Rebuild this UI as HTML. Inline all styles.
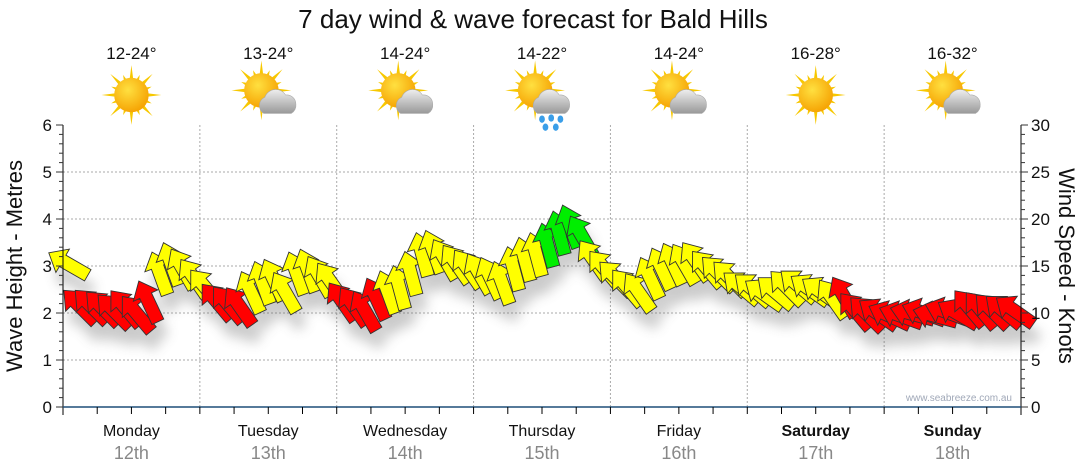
<!DOCTYPE html>
<html><head><meta charset="utf-8"><style>
body{margin:0;background:#fff;}
svg{display:block;font-family:"Liberation Sans",sans-serif;}
</style></head><body>
<svg id="c" width="1080" height="475" viewBox="0 0 1080 475">
<defs>
<radialGradient id="sunG" cx="0.4" cy="0.35" r="0.7"><stop offset="0" stop-color="#ffe040"/><stop offset="1" stop-color="#f5a000"/></radialGradient>
<linearGradient id="cloudG" x1="0" y1="0" x2="0" y2="1"><stop offset="0" stop-color="#eee"/><stop offset="1" stop-color="#999"/></linearGradient>
<filter id="sh" x="-50%" y="-50%" width="200%" height="200%"><feGaussianBlur stdDeviation="6"/></filter>
</defs>
<text x="533" y="28" text-anchor="middle" font-size="26" fill="#111">7 day wind &amp; wave forecast for Bald Hills</text>
<g id="grid"></g>
<g id="icons"></g>
<g id="shadows" filter="url(#sh)" opacity="0.3"></g>
<g id="arrows"></g>
<g id="axes"></g>
<text x="1012" y="401" text-anchor="end" font-size="10" fill="#a0a8b8">www.seabreeze.com.au</text>
<text transform="translate(22,266) rotate(-90)" text-anchor="middle" font-size="22" fill="#111">Wave Height - Metres</text>
<text transform="translate(1059,266) rotate(90)" text-anchor="middle" font-size="22" fill="#111">Wind Speed - Knots</text>
</svg>
<script>
const days=["Monday","Tuesday","Wednesday","Thursday","Friday","Saturday","Sunday"];
const dates=["12th","13th","14th","15th","16th","17th","18th"];
const temps=["12-24°","13-24°","14-24°","14-22°","14-24°","16-28°","16-32°"];
const weather=["sun","cloud","cloud","rain","cloud","sun","cloud"];
const waveTicks=[0,1,2,3,4,5,6];
const windTicks=[0,5,10,15,20,25,30];
// wind speed (knots) every 2 hours, 12 per day
const windSpeed=[
15.5,11,11,10.8,10.5,10.8,10.2,11.5,14.5,15.5,15,14,
13,11.5,11.2,11,12.5,13.5,13.8,12.5,14.5,14.8,14.2,13.6,
11.5,11,10.5,11.8,12.5,13,14.5,16.5,16.8,16,15.5,15,
14.5,14,13.5,15,16,16.5,17.5,18.8,19.5,18.5,16,15,
14,13,12.5,14,15,15.5,15.5,15.8,15,14.5,14,13,
12.8,12.3,12.5,13,13.2,12.8,12.5,11.8,12,10.5,10.2,10.2,
10,10,10.2,10.3,10,10.4,10.2,10.8,10.6,10.5,10.5,10.5];
// direction arrow points to (degrees clockwise from north)
const windDir=[
-60,-45,-45,-45,-45,-40,-40,-25,-20,-20,-30,-35,
-40,-40,-40,-35,-25,-20,-25,-30,-20,-20,-30,-35,
-35,-35,-30,-25,-20,-15,-15,-15,-20,-30,-35,-35,
-30,-25,-20,-15,-15,-15,-15,-15,-20,-30,-35,-40,
-45,-40,-35,-25,-25,-25,-30,-35,-40,-45,-45,-50,
-50,-55,-50,-45,-50,-55,-55,-35,-30,-40,-45,-55,
-65,-70,-75,-70,-75,-70,-60,-40,-40,-45,-50,-55];
// colour class: Y yellow, R red, G green
const windCol=
"YRRRRRRRYYYY"+"YRRRYYYYYYYY"+"RRRRYYYYYYYY"+"YYYYYYGGGGYY"+"YYYYYYYYYYYY"+"YYYYYYYYRRRR"+"RRRRRRRRRRRR";

const NS="http://www.w3.org/2000/svg";
const X0=63,X1=1021,Y0=407,Y1=125;
const dayW=(X1-X0)/7;
function xHour(h){return X0+h/(24*7)*(X1-X0);}
function yWave(m){return Y0-m/6*(Y0-Y1);}
function yWind(k){return Y0-k/30*(Y0-Y1);}
function mk(tag,attrs,parent){const e=document.createElementNS(NS,tag);for(const k in attrs)e.setAttribute(k,attrs[k]);parent.appendChild(e);return e;}
const grid=document.getElementById('grid'),axes=document.getElementById('axes'),icons=document.getElementById('icons');
waveTicks.forEach(v=>{if(v>0&&v<6){const l=mk('line',{x1:X0,x2:X1,y1:yWave(v),y2:yWave(v),stroke:'#aaa','stroke-dasharray':'2,2'},grid);

}});
for(let d=1;d<7;d++){const x=X0+d*dayW;const l=mk('line',{x1:x,x2:x,y1:Y1,y2:Y0,stroke:'#aaa','stroke-dasharray':'2,2'},grid);

}
mk('line',{x1:X0,x2:X0,y1:Y1,y2:Y0+8,stroke:'#000'},axes);
mk('line',{x1:X1,x2:X1,y1:Y1,y2:Y0+8,stroke:'#000'},axes);
const base=mk('line',{x1:X0,x2:X1,y1:Y0,y2:Y0,stroke:'#1f4e79','stroke-width':1.5},axes);


for(let i=0;i<=30;i++){const y=Y0-i/30*(Y0-Y1);const maj=i%5==0;
mk('line',{x1:X0-(maj?7:4),x2:X0,y1:y,y2:y,stroke:'#333'},axes);
mk('line',{x1:X1,x2:X1+(maj?7:4),y1:y,y2:y,stroke:'#333'},axes);}
waveTicks.forEach(v=>{const t=mk('text',{x:X0-11,y:yWave(v)+6,'text-anchor':'end','font-size':17,fill:'#111'},axes);t.textContent=v;

});
windTicks.forEach(v=>{const t=mk('text',{x:X1+10,y:yWind(v)+6,'font-size':17,fill:'#111'},axes);t.textContent=v;

});
for(let q=1;q<28;q++){const x=X0+q*dayW/4;mk('line',{x1:x,x2:x,y1:Y0,y2:Y0+7,stroke:'#000'},axes);}
days.forEach((d,i)=>{const cx=X0+(i+0.5)*dayW;
const t=mk('text',{x:cx,y:436,'text-anchor':'middle','font-size':16,fill:'#111','font-weight':i>=5?'bold':'normal'},axes);t.textContent=d;


const t2=mk('text',{x:cx,y:459,'text-anchor':'middle','font-size':18,fill:'#888'},axes);t2.textContent=dates[i];


const t3=mk('text',{x:cx,y:59,'text-anchor':'middle','font-size':17,fill:'#111'},icons);t3.textContent=temps[i];


const g=mk('g',{transform:`translate(${cx},95) scale(1.15)`},icons);


const w=weather[i];const sx=w=='sun'?0:-6,sy=w=='sun'?0:-4;
for(let r=0;r<16;r++){const a=r*Math.PI/8;const L=r%2?19:26;
mk('polygon',{points:`${sx+Math.cos(a-0.15)*12},${sy+Math.sin(a-0.15)*12} ${sx+Math.cos(a)*L},${sy+Math.sin(a)*L} ${sx+Math.cos(a+0.15)*12},${sy+Math.sin(a+0.15)*12}`,fill:'#f7c800'},g);}
mk('circle',{cx:sx,cy:sy,r:15,fill:'url(#sunG)'},g);
if(w!='sun'){mk('path',{d:'M-4,16 a8,8 0 0 1 1,-14 a10,10 0 0 1 18,-2 a8,8 0 0 1 9,8 a8,8 0 0 1 -4,8 z',fill:'url(#cloudG)',stroke:'#aaa','stroke-width':0.5},g);}
if(w=='rain'){[[0,21],[8,20],[16,21],[3,28],[12,28]].forEach(p=>mk('ellipse',{cx:p[0],cy:p[1],rx:2.5,ry:3.2,fill:'#3a9ee8'},g));}
});
const shadows=document.getElementById('shadows'),arrows=document.getElementById('arrows');
const colMap={Y:'#ffff00',R:'#ff0000',G:'#00ee00'};
const shape='M0,-23 L13.5,-7 L6.5,-7 L6.5,22 L-6.5,22 L-6.5,-7 L-13.5,-7 Z';
windSpeed.forEach((k,i)=>{const x=xHour(i*2+1),y=yWind(k)+3;
const s=mk('path',{d:shape,fill:'#555',transform:`translate(${x+5},${y+16}) rotate(${windDir[i]})`},shadows);


const a=mk('path',{d:shape,fill:colMap[windCol[i]],stroke:'#333','stroke-width':0.9,'stroke-linejoin':'miter',transform:`translate(${x},${y}) rotate(${windDir[i]})`},arrows);

});
</script>
</body></html>
